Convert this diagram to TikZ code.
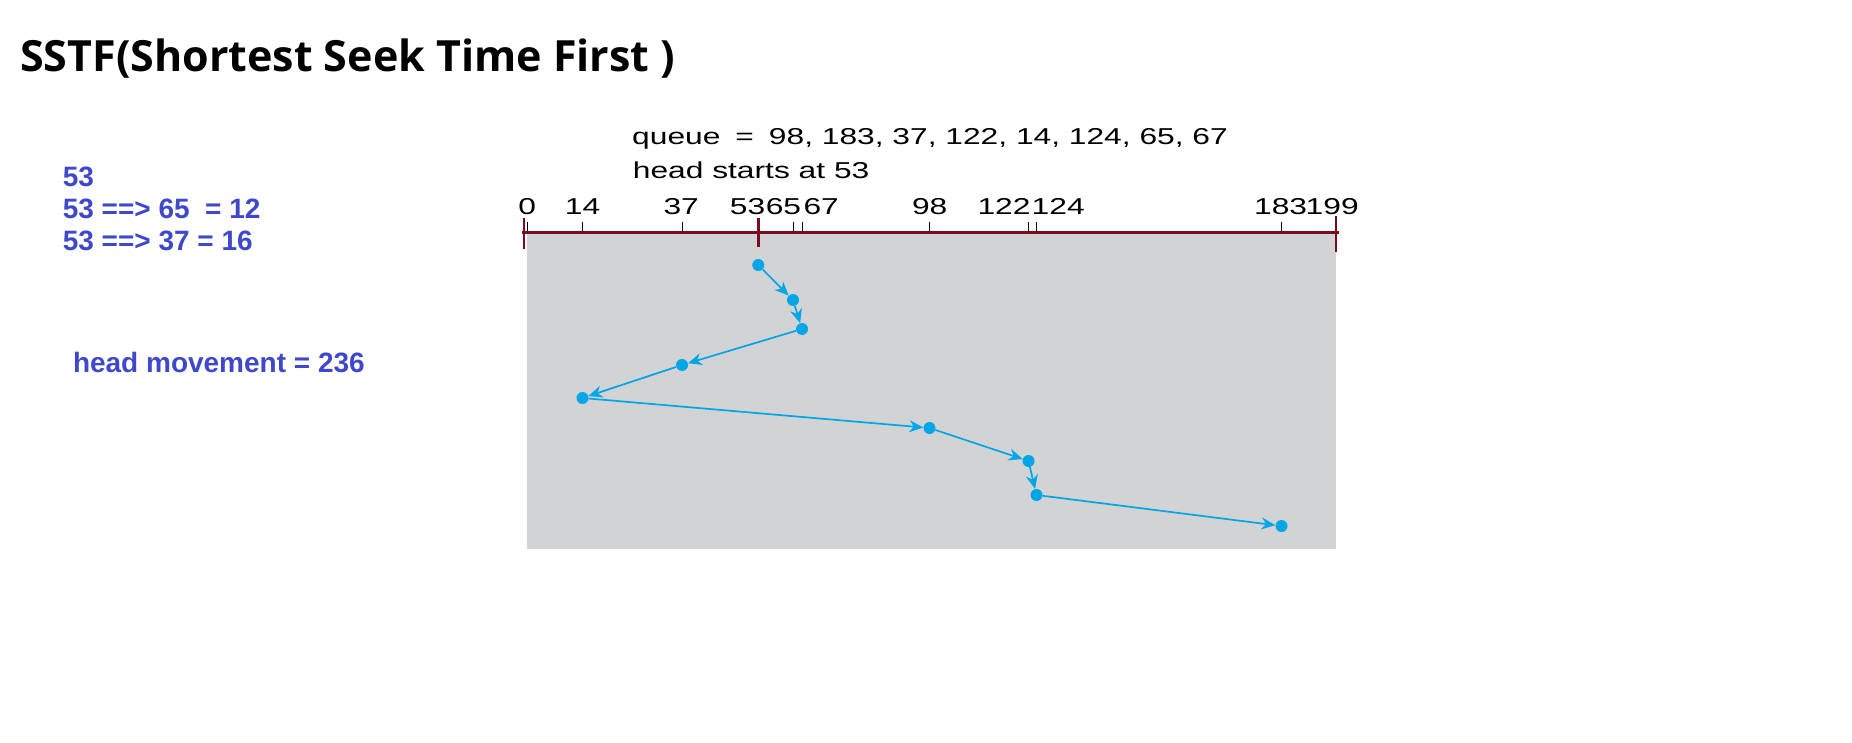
\documentclass[tikz,border=0pt]{standalone}
\usepackage{fontspec}
\setmainfont{Liberation Sans}
\newfontfamily\titlefont{Open Sans}
\newfontfamily\figfont[FakeStretch=1.38]{Liberation Sans}
\usetikzlibrary{arrows.meta}
\definecolor{axisred}{RGB}{122,10,30}
\definecolor{diskgray}{RGB}{209,211,212}
\definecolor{seekblue}{RGB}{0,166,230}
\definecolor{noteblue}{RGB}{63,72,204}

\begin{document}
\begin{tikzpicture}[x=1pt,y=-1pt,
  note/.style={anchor=base west,inner sep=0pt,text=noteblue,font=\fontsize{28}{28}\selectfont\bfseries},
  figtext/.style={anchor=base west,inner sep=0pt,font=\figfont\fontsize{23}{23}\selectfont},
  tracklabel/.style={anchor=base,inner sep=0pt,font=\figfont\fontsize{23}{23}\selectfont},
  seekdot/.style={circle,fill=seekblue,inner sep=0pt,minimum size=12pt},
  seek/.style={seekblue,line width=1.7pt,-{Stealth[length=14pt,width=12pt]}}]
\useasboundingbox (0,0) rectangle (1852,743);

\node[anchor=base west,inner sep=0pt,font=\titlefont\bfseries\fontsize{43}{43}\selectfont] (title) at (20,72) {SSTF(Shortest Seek Time First )};

\node[note] (n0) at (62.6,186.7) {53};
\node[note] (n1) at (62.6,219) {53 ==> 65\ \ = 12};
\node[note] (n2) at (62.6,250.7) {53 ==> 37 = 16};
\node[note] (total) at (72.8,372.7) {head movement = 236};

\begin{scope}
\fill[diskgray] (527,232.5) rectangle (1336,549);
\node[figtext] (queue) at (632,145) {queue\hspace{15pt}=\hspace{15pt}98, 183, 37, 122, 14, 124, 65, 67};
\node[figtext] (start) at (632.7,178.3) {head starts at 53};
\foreach \x/\lx/\t in {527/527.3/0,582.5/582.5/14,682/681.2/37,758.3/747.5/53,793/783.4/65,802/821.2/67,929.5/929.7/98,1028.5/1004/122,1036.5/1058.2/124,1281.5/1280.6/183,1336/1332.2/199}{
  \draw[black,line width=1pt] (\x,222) -- (\x,231);
  \node[tracklabel] (t\t) at (\lx,215) {\t};
}
\draw[axisred,line width=2.7pt] (522,232.5) -- (1339,232.5);
\draw[axisred,line width=2.5pt] (524,218) -- (524,249);
\draw[axisred,line width=2.5pt] (758.3,218) -- (758.3,247);
\draw[axisred,line width=2.5pt] (1336,216) -- (1336,252);

\foreach \x/\y [count=\i] in {758.3/265,793/300,802/329,682/365,582.5/398,929.5/428,1028.5/461,1036.5/495,1281.5/526}
  \node[seekdot] (s\i) at (\x,\y) {};
\foreach \a/\b in {1/2,2/3,3/4,4/5,5/6,6/7,7/8,8/9}
  \draw[seek] (s\a) -- (s\b);
\end{scope}
\end{tikzpicture}
\end{document}
